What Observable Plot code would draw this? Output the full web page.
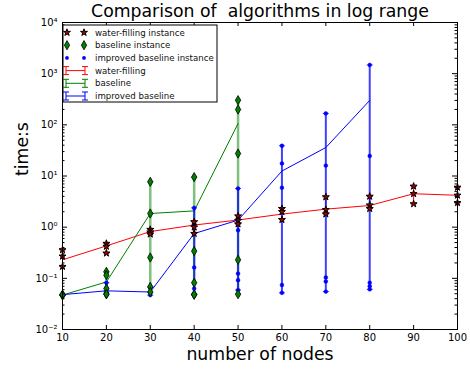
<!DOCTYPE html>
<html><head><meta charset="utf-8">
<script src="https://cdn.jsdelivr.net/npm/d3@7"></script>
<script src="https://cdn.jsdelivr.net/npm/@observablehq/plot@0.6"></script>
<style>
body{margin:0;background:#fff}
svg{font-family:"DejaVu Sans",sans-serif}
svg text{white-space:pre}
</style>
</head><body><div id="chart"></div>
<script>
// ---- data ----
const nodes = [10, 20, 30, 40, 50, 60, 70, 80, 90, 100];
const wfMean = [0.23, 0.43, 0.82, 1.1, 1.38, 1.8, 2.25, 2.65, 4.5, 4.2];
const wfInst = [
  [0.36, 0.27, 0.17], [0.48, 0.42, 0.31], [0.9, 0.8, 0.73], [1.27, 1.0, 0.75], [1.65, 1.35, 1.15],
  [2.3, 2.0, 1.4], [3.9, 2.2, 1.8], [4.0, 2.7, 2.3], [6.3, 4.5, 2.85], [6.0, 4.2, 3.0]
];
const blNodes = [10, 20, 30, 40, 50];
const blMean = [0.047, 0.085, 1.85, 2.08, 106];
const blInst = [
  [0.047, 0.047, 0.048], [0.134, 0.115, 0.063, 0.049, 0.049], [7.7, 1.85, 0.255, 0.068, 0.054],
  [9.5, 0.34, 0.082, 0.048, 0.048], [303, 199, 27.5, 0.23, 0.049]
];
const ibNodes = [10, 20, 30, 40, 50, 60, 70, 80];
const ibMean = [0.048, 0.057, 0.054, 0.75, 1.37, 12.5, 36, 300];
const ibInst = [
  [0.049, 0.047, 0.046], [0.082, 0.064, 0.054], [0.068, 0.052, 0.047], [2.38, 1.1, 0.163, 0.063, 0.05],
  [5.7, 0.87, 0.124, 0.092, 0.059], [39, 17.6, 5.9, 0.074, 0.052], [167, 16, 0.104, 0.087, 0.055],
  [1480, 24.7, 0.082, 0.07, 0.061]
];
const xTicks = [10, 20, 30, 40, 50, 60, 70, 80, 90, 100];
const yTicks = [1e-2, 1e-1, 1e0, 1e1, 1e2, 1e3, 1e4];
const yTickLabels = ["10\u207B\u00B2", "10\u207B\u00B9", "10\u2070", "10\u00B9", "10\u00B2", "10\u00B3", "10\u2074"];
const title = "Comparison of  algorithms in log range";
const xLabel = "number of nodes";
const yLabel = "time:s";
const legendLabels = ["water-filling instance", "baseline instance", "improved baseline instance", "water-filling", "baseline", "improved baseline"];

// ---- derived tables ----
const meanTable = (ns, vs) => ns.map((n, i) => ({n, v: vs[i]}));
const instTable = (ns, inst) => ns.flatMap((n, i) => inst[i].map(v => ({n, v})));
const errTable = (ns, inst) => ns.map((n, i) => ({n, lo: d3.min(inst[i]), hi: d3.max(inst[i])}));
const yMinor = [];
for (let e = -2; e < 4; e++) for (let k = 2; k <= 9; k++) yMinor.push(k * Math.pow(10, e));

const W = 470, H = 370, mL = 62, mR = 13, mT = 22, mB = 41;
const fw = W - mL - mR, fh = H - mT - mB;
const capSym = {draw(ctx, size) { const r = Math.sqrt(size / Math.PI); ctx.moveTo(-r, 0); ctx.lineTo(r, 0); }};
const STAR_R = 2.2, DIA_R = 2.8, DOT_R = 1.9;

function errMarks(ns, inst, color, width, opacity) {
  const t = errTable(ns, inst);
  return [
    Plot.ruleX(t, {x: "n", y1: "lo", y2: "hi", stroke: color, strokeWidth: width, strokeOpacity: opacity}),
    Plot.dot(t, {x: "n", y: "lo", symbol: capSym, r: 3, stroke: color, strokeWidth: 1, strokeOpacity: opacity}),
    Plot.dot(t, {x: "n", y: "hi", symbol: capSym, r: 3, stroke: color, strokeWidth: 1, strokeOpacity: opacity})
  ];
}

const chart = Plot.plot({
  width: W, height: H,
  marginLeft: mL, marginRight: mR, marginTop: mT, marginBottom: mB,
  style: {fontSize: "10px", fontFamily: "DejaVu Sans", color: "black", background: "white"},
  x: {domain: [10, 100]},
  y: {type: "log", domain: [1e-2, 1e4]},
  marks: [
    ...errMarks(nodes, wfInst, "red", 1, 1),
    Plot.line(meanTable(nodes, wfMean), {x: "n", y: "v", stroke: "red", strokeWidth: 1}),
    ...errMarks(blNodes, blInst, "green", 2.5, 0.5),
    Plot.line(meanTable(blNodes, blMean), {x: "n", y: "v", stroke: "green", strokeWidth: 1}),
    ...errMarks(ibNodes, ibInst, "blue", 2, 0.75),
    Plot.line(meanTable(ibNodes, ibMean), {x: "n", y: "v", stroke: "blue", strokeWidth: 1}),
    Plot.dot(instTable(ibNodes, ibInst), {x: "n", y: "v", r: DOT_R, fill: "blue", stroke: "blue", strokeWidth: 0.5}),
    Plot.dot(instTable(blNodes, blInst), {x: "n", y: "v", symbol: "diamond", r: DIA_R, fill: "green", stroke: "black", strokeWidth: 0.8}),
    Plot.dot(instTable(nodes, wfInst), {x: "n", y: "v", symbol: "star", r: STAR_R, fill: "#aa0000", stroke: "black", strokeWidth: 1}),
    // ticks (inside)
    Plot.tickX(xTicks, {x: d => d, insetTop: fh - 4, stroke: "black"}),
    Plot.tickX(xTicks, {x: d => d, insetBottom: fh - 4, stroke: "black"}),
    Plot.tickY(yTicks, {y: d => d, insetRight: fw - 5, stroke: "black"}),
    Plot.tickY(yTicks, {y: d => d, insetLeft: fw - 5, stroke: "black"}),
    Plot.tickY(yMinor, {y: d => d, insetRight: fw - 2.5, stroke: "black"}),
    Plot.tickY(yMinor, {y: d => d, insetLeft: fw - 2.5, stroke: "black"}),
    Plot.axisX({ticks: xTicks, tickSize: 0, tickPadding: 4, label: null, fontSize: 10}),
    Plot.axisY({ticks: yTicks, tickSize: 0, tickPadding: 5, label: null, fontSize: 10,
      tickFormat: d => yTickLabels[yTicks.indexOf(d)]}),
    Plot.frame({stroke: "black", strokeWidth: 1}),
    Plot.text([title], {frameAnchor: "top", dy: -6, lineAnchor: "bottom", fontSize: 17.3, text: d => d, fill: "black"}),
    Plot.text([xLabel], {frameAnchor: "bottom", dy: 30, lineAnchor: "bottom", fontSize: 17.3, text: d => d, fill: "black"}),
    Plot.text([yLabel], {frameAnchor: "left", dx: -40, rotate: -90, fontSize: 17.3, text: d => d, fill: "black"})
  ]
});
document.getElementById("chart").append(chart);

// ---- legend ----
const svg = d3.select(chart);
const lg = svg.append("g").attr("text-anchor", "start");
const lx = 63, ly = 25;
lg.append("rect").attr("x", lx).attr("y", ly).attr("width", 154).attr("height", 77)
  .attr("fill", "white").attr("stroke", "black").attr("stroke-width", 1);
const rowY = i => ly + 7.5 + i * 12.7;
const sym = (type, r) => d3.symbol(type, r * r * Math.PI)();
const texts = [];
legendLabels.forEach((lab, i) => {
  const y = rowY(i);
  if (i < 3) {
    [67, 84].forEach(x => {
      const p = lg.append("path").attr("transform", `translate(${x},${y})`);
      if (i === 0) p.attr("d", sym(d3.symbolStar, STAR_R)).attr("fill", "#aa0000").attr("stroke", "black").attr("stroke-width", 1);
      if (i === 1) p.attr("d", sym(d3.symbolDiamond, DIA_R)).attr("fill", "green").attr("stroke", "black").attr("stroke-width", 0.8);
      if (i === 2) p.attr("d", sym(d3.symbolCircle, DOT_R)).attr("fill", "blue");
    });
  } else {
    const c = ["red", "green", "blue"][i - 3];
    lg.append("path").attr("d", `M66,${y}H85M66,${y - 4}V${y + 4}M85,${y - 4}V${y + 4}M63,${y - 4}H69M63,${y + 4}H69M82,${y - 4}H88M82,${y + 4}H88`)
      .attr("stroke", c).attr("fill", "none").attr("stroke-width", 1);
  }
  texts.push(lg.append("text").attr("x", 95).attr("y", y).attr("dy", "0.35em")
    .style("font-size", "10px").style("font-family", "DejaVu Sans").attr("fill", "#111").text(lab));
});
// fit legend font so the longest label spans the same width as in the reference box
const longest = texts[2].node().getComputedTextLength();
const fs = 10 * 119 / longest;
texts.forEach(t => t.style("font-size", fs + "px"));
</script>
</body></html>
